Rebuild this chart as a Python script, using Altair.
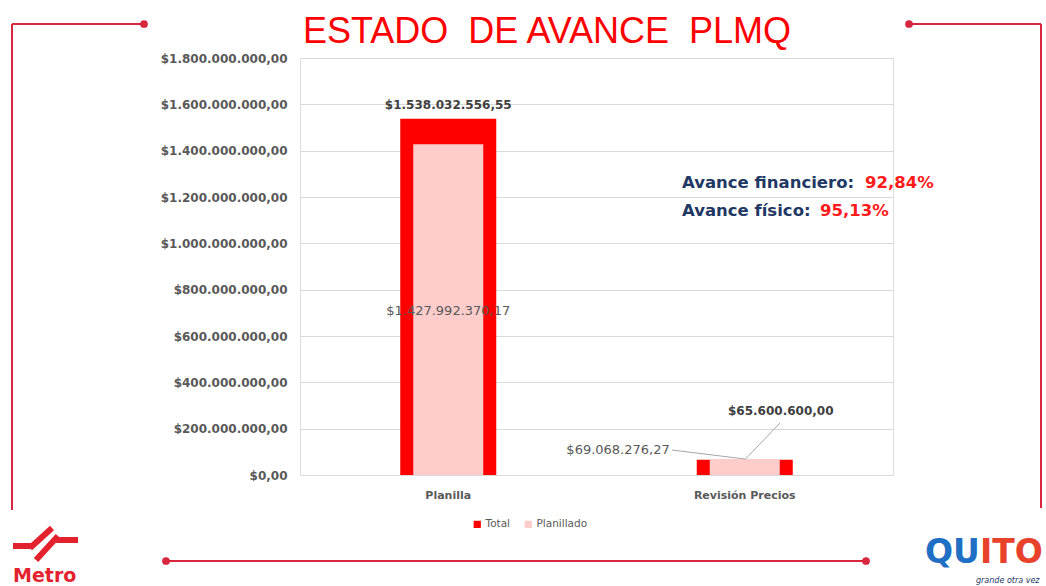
import altair as alt
import pandas as pd

# ---------------- data ----------------
categorias = ["Planilla", "Revisión Precios"]
series = ["Total", "Planillado"]
total = [1538032556.55, 65600600.00]
planillado = [1427992370.17, 69068276.27]
colores = ["#FF0000", "#FFCCCC"]
ticks_y = [0, 200000000, 400000000, 600000000, 800000000,
           1000000000, 1200000000, 1400000000, 1600000000, 1800000000]
titulo = "ESTADO\u00a0 DE AVANCE\u00a0 PLMQ"
avance_etiquetas = ["Avance financiero:", "Avance físico:"]
avance_valores = ["92,84%", "95,13%"]

rows = []
for c, t, p in zip(categorias, total, planillado):
    rows.append({"categoria": c, "serie": "Total", "valor": t})
    rows.append({"categoria": c, "serie": "Planillado", "valor": p})
df = pd.DataFrame(rows)
df["mitad"] = df["valor"] / 2

W, H = 593, 417
FONT = "DejaVu Sans"
GRAY = "#595959"
DECO = "#D7263D"

x_enc = alt.X(
    "categoria:N", sort=categorias,
    scale=alt.Scale(domain=categorias, paddingInner=0, paddingOuter=0),
    axis=alt.Axis(title=None, labelAngle=0, domain=False, ticks=False,
                  labelFont=FONT, labelFontWeight="bold", labelFontSize=11,
                  labelColor=GRAY, labelPadding=14),
)
y_axis = alt.Axis(title=None, values=ticks_y, format="$,.2f", domain=False,
                  ticks=False, grid=True, gridColor="#D9D9D9", gridWidth=1,
                  labelFont=FONT, labelFontWeight="bold", labelFontSize=12,
                  labelColor=GRAY, labelPadding=13)
y_scale = alt.Scale(domain=[0, 1800000000], nice=False, zero=True)
y_enc = alt.Y("valor:Q", scale=y_scale, axis=y_axis)
color_enc = alt.Color(
    "serie:N",
    scale=alt.Scale(domain=series, range=colores),
    legend=alt.Legend(title=None, orient="none", legendX=172, legendY=461,
                      direction="horizontal", symbolType="square",
                      symbolSize=52, symbolStrokeWidth=0, labelFont=FONT,
                      labelFontSize=10.5, labelColor=GRAY, labelOffset=3,
                      columnPadding=12),
)

base = alt.Chart(df)

bar_total = base.transform_filter(alt.datum.serie == "Total").mark_bar(size=96).encode(
    x=x_enc, y=y_enc, color=color_enc)
bar_plan = base.transform_filter(alt.datum.serie == "Planillado").mark_bar(size=70).encode(
    x=x_enc, y=y_enc, color=color_enc)

lbl_total_1 = base.transform_filter(
    (alt.datum.serie == "Total") & (alt.datum.categoria == categorias[0])
).mark_text(font=FONT, fontWeight="bold", fontSize=12, color="#404040",
            baseline="middle", dy=-14).encode(
    x=x_enc, y=y_enc, text=alt.Text("valor:Q", format="$,.2f"))

lbl_plan_1 = base.transform_filter(
    (alt.datum.serie == "Planillado") & (alt.datum.categoria == categorias[0])
).mark_text(font=FONT, fontSize=13, color=GRAY, baseline="middle", dy=1).encode(
    x=x_enc, y=alt.Y("mitad:Q", scale=y_scale, axis=y_axis),
    text=alt.Text("valor:Q", format="$,.2f"))

lbl_total_2 = base.transform_filter(
    (alt.datum.serie == "Total") & (alt.datum.categoria == categorias[1])
).mark_text(font=FONT, fontWeight="bold", fontSize=12, color="#404040",
            baseline="middle", dx=36, dy=-49).encode(
    x=x_enc, y=y_enc, text=alt.Text("valor:Q", format="$,.2f"))

lbl_plan_2 = base.transform_filter(
    (alt.datum.serie == "Planillado") & (alt.datum.categoria == categorias[1])
).mark_text(font=FONT, fontSize=13, color=GRAY, baseline="middle",
            align="right", dx=-75, dy=-9).encode(
    x=x_enc, y=y_enc, text=alt.Text("valor:Q", format="$,.2f"))

lead_total_2 = base.transform_filter(
    (alt.datum.serie == "Total") & (alt.datum.categoria == categorias[1])
).mark_rule(color="#A6A6A6", strokeWidth=1).encode(
    x=x_enc, y=y_enc, x2=alt.value(480), y2=alt.value(365))

lead_plan_2 = base.transform_filter(
    (alt.datum.serie == "Planillado") & (alt.datum.categoria == categorias[1])
).mark_rule(color="#A6A6A6", strokeWidth=1).encode(
    x=x_enc, y=y_enc, x2=alt.value(372), y2=alt.value(392))

one = alt.Data(values=[{}])


def rule(x1, y1, x2, y2, color=DECO, w=2):
    return alt.Chart(one).mark_rule(color=color, strokeWidth=w, strokeCap="butt").encode(
        x=alt.value(x1), y=alt.value(y1), x2=alt.value(x2), y2=alt.value(y2))


def dot(x, y):
    return alt.Chart(one).mark_circle(color=DECO, size=60, opacity=1).encode(
        x=alt.value(x), y=alt.value(y))


def txt(s, x, y, **kw):
    return alt.Chart(one).mark_text(text=s, **kw).encode(
        x=alt.value(x), y=alt.value(y))


title_mark = txt(titulo, 3, -15, font="Liberation Sans", fontSize=36,
                 color="#FF0000", align="left", baseline="alphabetic")

av1 = txt(avance_etiquetas[0], 382, 125, font=FONT, fontWeight="bold",
          fontSize=16.5, color="#1F3864", align="left", baseline="middle")
av2 = txt(avance_etiquetas[1], 382, 153, font=FONT, fontWeight="bold",
          fontSize=16.5, color="#1F3864", align="left", baseline="middle")
pv1 = txt(avance_valores[0], 565, 125, font=FONT, fontWeight="bold",
          fontSize=16.5, color="#FF1A1A", align="left", baseline="middle")
pv2 = txt(avance_valores[1], 520, 153, font=FONT, fontWeight="bold",
          fontSize=16.5, color="#FF1A1A", align="left", baseline="middle")

deco = [
    rule(-288, -34, -156, -34), rule(-288, -34, -288, 452), dot(-156, -34),
    rule(609, -34, 741, -34), rule(741, -34, 741, 450), dot(609, -34),
    rule(-134, 503, 566, 503), dot(-134, 503), dot(566, 503),
]

LOGO_RED = "#E3222E"
metro = [
    rule(-287, 488, -267, 488, LOGO_RED, 6),
    rule(-270, 490, -248, 470, LOGO_RED, 6),
    rule(-264, 502, -242, 478, LOGO_RED, 6),
    rule(-244, 482, -222, 482, LOGO_RED, 6),
    txt("Metro", -287, 524, font=FONT, fontWeight="bold", fontSize=19,
        color=LOGO_RED, align="left", baseline="alphabetic"),
]
quito = [
    txt("QU", 625, 505, font=FONT, fontWeight="bold", fontSize=33,
        color="#1F6FC4", align="left", baseline="alphabetic"),
    txt("ITO", 680, 505, font=FONT, fontWeight="bold", fontSize=33,
        color="#E8412C", align="left", baseline="alphabetic"),
    txt("grande otra vez", 676, 525, font=FONT, fontStyle="italic",
        fontSize=8, color="#1F3864", align="left", baseline="alphabetic"),
]

chart = alt.layer(
    bar_total, bar_plan, lbl_total_1, lbl_plan_1, lbl_total_2, lbl_plan_2,
    lead_total_2, lead_plan_2, title_mark, av1, av2, pv1, pv2,
    *deco, *metro, *quito,
).properties(
    width=W, height=H,
    autosize=alt.AutoSizeParams(type="none"),
    padding={"left": 300, "top": 58, "right": 153, "bottom": 111},
    background="white",
).configure_view(stroke=None).configure(
    locale=alt.Locale(number=alt.NumberLocale(
        decimal=",", thousands=".", grouping=[3], currency=["$", ""]))
)

chart.save("out.html", embed_options={"renderer": "svg", "actions": False})
